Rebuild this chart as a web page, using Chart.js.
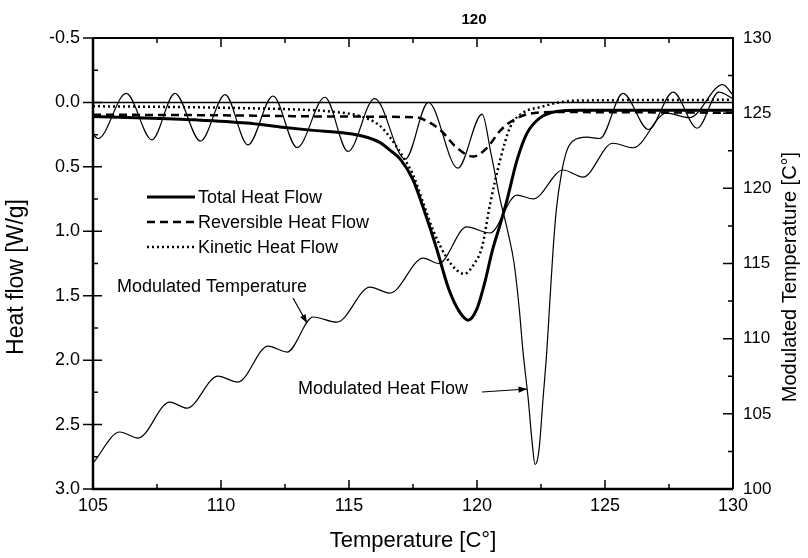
<!DOCTYPE html>
<html>
<head>
<meta charset="utf-8">
<title>MTDSC heat flow</title>
<script src="https://cdn.jsdelivr.net/npm/chart.js@4.4.0/dist/chart.umd.min.js"></script>
<style>
  html, body { margin: 0; padding: 0; background: #fff; }
  #wrap { width: 808px; height: 558px; }
</style>
</head>
<body>
<div id="wrap"><canvas id="dscChart" width="808" height="558"></canvas></div>
<script>
// Total heat flow [W/g] vs temperature [°C]
const totalTemp = [105, 107, 109, 111, 112.3, 113.5, 114.9, 115.5, 116.2, 116.6, 117, 117.5, 117.8, 118.4, 118.9, 119.3, 119.65, 120, 120.3, 120.6, 120.9, 121.17, 121.56, 121.95, 122.46, 123.1, 124, 130];
const totalFlow = [0.11, 0.12, 0.135, 0.16, 0.19, 0.215, 0.24, 0.26, 0.31, 0.37, 0.44, 0.6, 0.76, 1.12, 1.45, 1.62, 1.69, 1.6, 1.4, 1.15, 0.95, 0.76, 0.45, 0.24, 0.12, 0.07, 0.06, 0.06];

// Reversible heat flow
const revTemp = [105, 110, 115, 117.6, 118.1, 118.6, 119.2, 119.85, 120.4, 120.9, 121.4, 122, 123, 130];
const revFlow = [0.095, 0.1, 0.11, 0.115, 0.15, 0.22, 0.35, 0.42, 0.35, 0.22, 0.14, 0.09, 0.075, 0.08];

// Kinetic heat flow
const kinTemp = [105, 108, 111, 113, 114.5, 115.5, 116.2, 116.6, 117.1, 117.5, 117.9, 118.3, 118.8, 119.2, 119.5, 119.9, 120.2, 120.5, 120.9, 121.3, 121.8, 122.5, 123.2, 124, 130];
const kinFlow = [0.03, 0.035, 0.045, 0.055, 0.075, 0.11, 0.18, 0.27, 0.42, 0.56, 0.78, 1.0, 1.2, 1.3, 1.33, 1.25, 1.12, 0.8, 0.45, 0.19, 0.08, 0.035, 0.0, -0.015, -0.02];

// Modulated heat flow (raw signal, peaks and troughs)
const modFlowTemp = [105, 105.2, 106.3, 107.3, 108.2, 109.2, 110.16, 111.05, 112.03, 112.97, 114.06, 114.96, 116.0, 117.2, 118.1, 119.25, 120.2, 120.55, 120.9, 121.2, 121.45, 121.65, 121.8, 122.0, 122.15, 122.27, 122.42, 122.58, 122.73, 122.85, 122.97, 123.1, 123.3, 123.5, 123.75, 124.3, 124.8, 125.7, 126.7, 127.66, 128.6, 129.45, 130];
const modFlow = [0.25, 0.28, -0.07, 0.29, -0.07, 0.30, -0.06, 0.33, -0.05, 0.35, -0.04, 0.38, -0.03, 0.44, 0.0, 0.51, 0.09, 0.4, 0.75, 1.0, 1.25, 1.6, 1.94, 2.3, 2.63, 2.81, 2.7, 2.3, 1.92, 1.53, 1.15, 0.83, 0.55, 0.38, 0.3, 0.27, 0.28, -0.07, 0.21, -0.08, 0.2, -0.08, -0.03];

// Modulated sample temperature [°C], right axis
const modTempX = [105, 106.05, 106.76, 108.0, 108.67, 109.88, 110.66, 111.84, 112.58, 113.6, 114.53, 115.82, 116.6, 117.9, 118.5, 119.6, 120.5, 121.56, 122.2, 123.36, 124.14, 125.3, 126.1, 127.4, 128.3, 129.6, 130];
const modTempY = [101.72, 103.79, 103.39, 105.78, 105.38, 107.51, 107.11, 109.51, 109.11, 111.44, 111.1, 113.43, 113.03, 115.36, 115.0, 117.43, 117.03, 119.55, 119.3, 121.22, 120.75, 123.0, 122.7, 125.0, 124.7, 126.9, 126.2];

// Baseline at 0 W/g
const zeroTemp = [105, 130];
const zeroFlow = [0, 0];

const FONT = '"Liberation Sans", Arial, sans-serif';

function points(xs, ys) {
  return xs.map((x, i) => ({ x, y: ys[i] }));
}

function lineSet(label, xs, ys, axis, width, dash) {
  return {
    label,
    data: points(xs, ys),
    yAxisID: axis,
    borderColor: '#000',
    borderWidth: width,
    borderDash: dash || [],
    pointRadius: 0,
    fill: false,
    cubicInterpolationMode: 'monotone',
  };
}

// Frame, inward ticks, legend and labels drawn on top of the plot
const decorations = {
  id: 'decorations',
  afterDatasetsDraw(chart) {
    const { ctx, chartArea: a, scales } = chart;
    const sx = scales.x, yl = scales.yFlow, yr = scales.yTemp;
    ctx.save();
    ctx.strokeStyle = '#000';
    ctx.fillStyle = '#000';
    ctx.setLineDash([]);

    // box
    ctx.lineWidth = 2.5;
    ctx.beginPath();
    ctx.moveTo(a.left, a.top); ctx.lineTo(a.left, a.bottom); ctx.lineTo(a.right, a.bottom);
    ctx.stroke();
    ctx.lineWidth = 2;
    ctx.beginPath();
    ctx.moveTo(a.left, a.top); ctx.lineTo(a.right, a.top); ctx.lineTo(a.right, a.bottom);
    ctx.stroke();

    ctx.lineWidth = 1.5;
    ctx.beginPath();
    for (let v = 105; v <= 130.001; v += 2.5) {
      const px = sx.getPixelForValue(v);
      const len = v % 5 === 0 ? 9 : 5;
      ctx.moveTo(px, a.bottom); ctx.lineTo(px, a.bottom - len);
      ctx.moveTo(px, a.top); ctx.lineTo(px, a.top + len);
    }
    for (let v = -0.5; v <= 3.001; v += 0.25) {
      const py = yl.getPixelForValue(v);
      const major = Math.abs(v * 2 - Math.round(v * 2)) < 1e-6;
      if (major) { ctx.moveTo(a.left - 10, py); ctx.lineTo(a.left + 9, py); }
      else { ctx.moveTo(a.left, py); ctx.lineTo(a.left + 5, py); }
    }
    for (let v = 100; v <= 130.001; v += 2.5) {
      const py = yr.getPixelForValue(v);
      const len = v % 5 === 0 ? 10 : 5;
      ctx.moveTo(a.right, py); ctx.lineTo(a.right - len, py);
    }
    ctx.stroke();

    // legend
    const rows = [
      { text: 'Total Heat Flow', width: 3, dash: [] },
      { text: 'Reversible Heat Flow', width: 2.5, dash: [8, 5] },
      { text: 'Kinetic Heat Flow', width: 2.5, dash: [2, 3] },
    ];
    ctx.font = '18px ' + FONT;
    ctx.textBaseline = 'middle';
    ctx.textAlign = 'left';
    rows.forEach((r, i) => {
      const y = 197 + i * 25;
      ctx.lineWidth = r.width;
      ctx.setLineDash(r.dash);
      ctx.beginPath();
      ctx.moveTo(147, y); ctx.lineTo(195, y);
      ctx.stroke();
      ctx.setLineDash([]);
      ctx.fillText(r.text, 198, y + 1);
    });

    // callouts
    ctx.fillText('Modulated Temperature', 117, 287);
    ctx.fillText('Modulated Heat Flow', 298, 389);
    arrow(ctx, 293, 298, 307, 323);
    arrow(ctx, 482, 392, 527, 389);

    // axis titles
    ctx.textAlign = 'center';
    ctx.font = '22px ' + FONT;
    ctx.fillText('Temperature [C°]', 413, 541);
    ctx.save();
    ctx.translate(17, 277);
    ctx.rotate(-Math.PI / 2);
    ctx.font = '23px ' + FONT;
    ctx.fillText('Heat flow [W/g]', 0, 0);
    ctx.restore();
    ctx.save();
    ctx.translate(790, 277);
    ctx.rotate(-Math.PI / 2);
    ctx.font = '20px ' + FONT;
    ctx.fillText('Modulated Temperature [C°]', 0, 0);
    ctx.restore();

    ctx.font = 'bold 15px ' + FONT;
    ctx.fillText('120', 474, 20);
    ctx.restore();
  }
};

function arrow(ctx, x1, y1, x2, y2) {
  const ang = Math.atan2(y2 - y1, x2 - x1);
  ctx.lineWidth = 1.2;
  ctx.beginPath();
  ctx.moveTo(x1, y1); ctx.lineTo(x2, y2);
  ctx.stroke();
  ctx.beginPath();
  ctx.moveTo(x2, y2);
  ctx.lineTo(x2 - 9 * Math.cos(ang - 0.35), y2 - 9 * Math.sin(ang - 0.35));
  ctx.lineTo(x2 - 9 * Math.cos(ang + 0.35), y2 - 9 * Math.sin(ang + 0.35));
  ctx.closePath();
  ctx.fill();
}

const tickFont = { family: FONT, size: 18 };

new Chart(document.getElementById('dscChart'), {
  type: 'line',
  data: {
    datasets: [
      lineSet('Total Heat Flow', totalTemp, totalFlow, 'yFlow', 3),
      lineSet('Reversible Heat Flow', revTemp, revFlow, 'yFlow', 2.5, [8, 5]),
      lineSet('Kinetic Heat Flow', kinTemp, kinFlow, 'yFlow', 2.5, [2, 3]),
      lineSet('Modulated Heat Flow', modFlowTemp, modFlow, 'yFlow', 1.2),
      lineSet('Modulated Temperature', modTempX, modTempY, 'yTemp', 1.2),
      { ...lineSet('zero', zeroTemp, zeroFlow, 'yFlow', 1.5), cubicInterpolationMode: 'default', tension: 0 },
    ]
  },
  options: {
    responsive: false,
    animation: false,
    layout: { padding: { top: 38, left: 0, right: 0, bottom: 0 } },
    plugins: { legend: { display: false }, tooltip: { enabled: false } },
    scales: {
      x: {
        type: 'linear', min: 105, max: 130,
        grid: { display: false, drawTicks: false },
        border: { display: false },
        ticks: { stepSize: 5, color: '#000', font: tickFont, padding: 6, maxRotation: 0, autoSkip: false },
        afterFit(s) { s.height = 69; }
      },
      yFlow: {
        type: 'linear', position: 'left', reverse: true, min: -0.5, max: 3.0,
        grid: { display: false, drawTicks: false },
        border: { display: false },
        ticks: { stepSize: 0.5, color: '#000', font: tickFont, padding: 13, autoSkip: false,
                 callback: v => Number(v).toFixed(1) },
        afterFit(s) { s.width = 93; }
      },
      yTemp: {
        type: 'linear', position: 'right', min: 100, max: 130,
        grid: { display: false, drawTicks: false },
        border: { display: false },
        ticks: { stepSize: 5, color: '#000', font: { family: FONT, size: 17 }, padding: 10, autoSkip: false },
        afterFit(s) { s.width = 75; }
      }
    }
  },
  plugins: [decorations]
});
</script>
</body>
</html>
